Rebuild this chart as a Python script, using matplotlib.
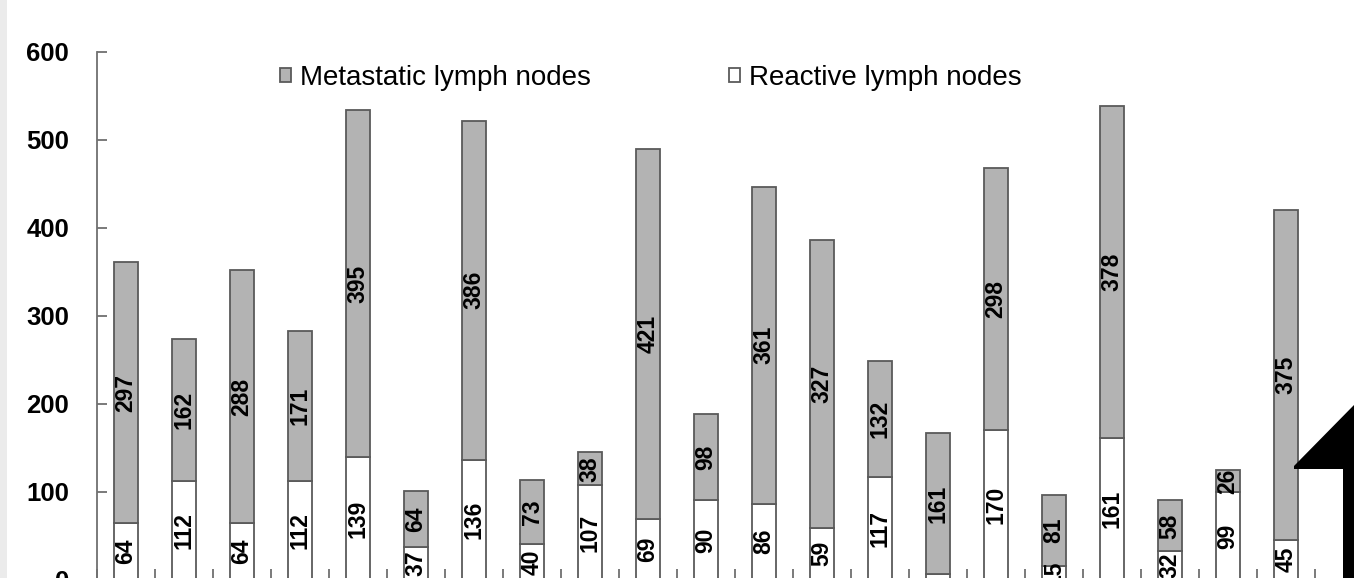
import numpy as np
import matplotlib
matplotlib.use('Agg')
import matplotlib.pyplot as plt
from matplotlib.patches import Rectangle, Polygon

plt.rcParams['font.family'] = ['Liberation Sans', 'DejaVu Sans']

# values
reactive = [64, 112, 64, 112, 139, 37, 136, 40, 107, 69, 90, 86, 59, 117, 6, 170, 15, 161, 32, 99, 45]
metastatic = [297, 162, 288, 171, 395, 64, 386, 73, 38, 421, 98, 361, 327, 132, 161, 298, 81, 378, 58, 26, 375]
yticks = [0, 100, 200, 300, 400, 500, 600]

W, H = 1354, 578
fig = plt.figure(figsize=(W / 100, H / 100), dpi=100)
fig.patch.set_facecolor('white')

# light strip on the left edge
fig.patches.append(Rectangle((0, 0), 7 / W, 1, transform=fig.transFigure,
                             facecolor='#ebebeb', edgecolor='none', zorder=0))

ax = fig.add_axes([97 / W, -1.5 / H, (1315 - 97) / W, (579.5 - 52) / H])
x = np.arange(len(reactive))
gray = '#b3b3b3'
edge = '#5a5a5a'

b1 = ax.bar(x, reactive, width=0.41, color='white', edgecolor=edge, linewidth=1.3,
            label='Reactive lymph nodes')
b2 = ax.bar(x, metastatic, width=0.41, bottom=reactive, color=gray, edgecolor=edge,
            linewidth=1.3, label='Metastatic lymph nodes')

# value labels, rotated, centred in each segment
for i in range(len(x)):
    r, m = reactive[i], metastatic[i]
    if r >= 10:
        ax.text(x[i], r / 2, str(r), rotation=90, ha='center', va='center',
                fontsize=16.5, fontweight='bold', clip_on=True)
    ax.text(x[i], r + m / 2, str(m), rotation=90, ha='center', va='center',
            fontsize=16.5, fontweight='bold', clip_on=True)

ax.set_xlim(-0.5, len(x) - 0.5)
ax.set_ylim(0, 600)
ax.set_yticks(yticks)
ax.set_yticklabels([str(v) for v in yticks], fontsize=18.5, fontweight='bold')
ax.set_xticks(np.arange(-0.5, len(x), 1))
ax.set_xticklabels([])
ax.tick_params(axis='y', direction='in', length=7, width=1.3, color='#707070', pad=20)
ax.tick_params(axis='x', direction='in', length=8, width=1.3, color='#707070')
for s in ['top', 'right', 'bottom']:
    ax.spines[s].set_visible(False)
ax.spines['left'].set_color('#707070')
ax.spines['left'].set_linewidth(1.3)

leg = ax.legend(handles=[b2, b1], ncol=2, frameon=False, fontsize=20,
                loc='upper left', bbox_to_anchor=(172 / (1315 - 97), 0.997),
                handlelength=0.4, handleheight=0.4, handletextpad=0.3,
                columnspacing=5.0, borderaxespad=0)

# black arrow shape at lower right
fig.patches.append(Polygon([(1294 / W, 1 - 466 / H), (1354 / W, 1 - 405 / H),
                            (1354 / W, 0), (1343 / W, 0), (1343 / W, 1 - 469 / H),
                            (1294 / W, 1 - 469 / H)], closed=True,
                           transform=fig.transFigure, facecolor='black',
                           edgecolor='none', zorder=10))

fig.savefig('out.png', dpi=100)
